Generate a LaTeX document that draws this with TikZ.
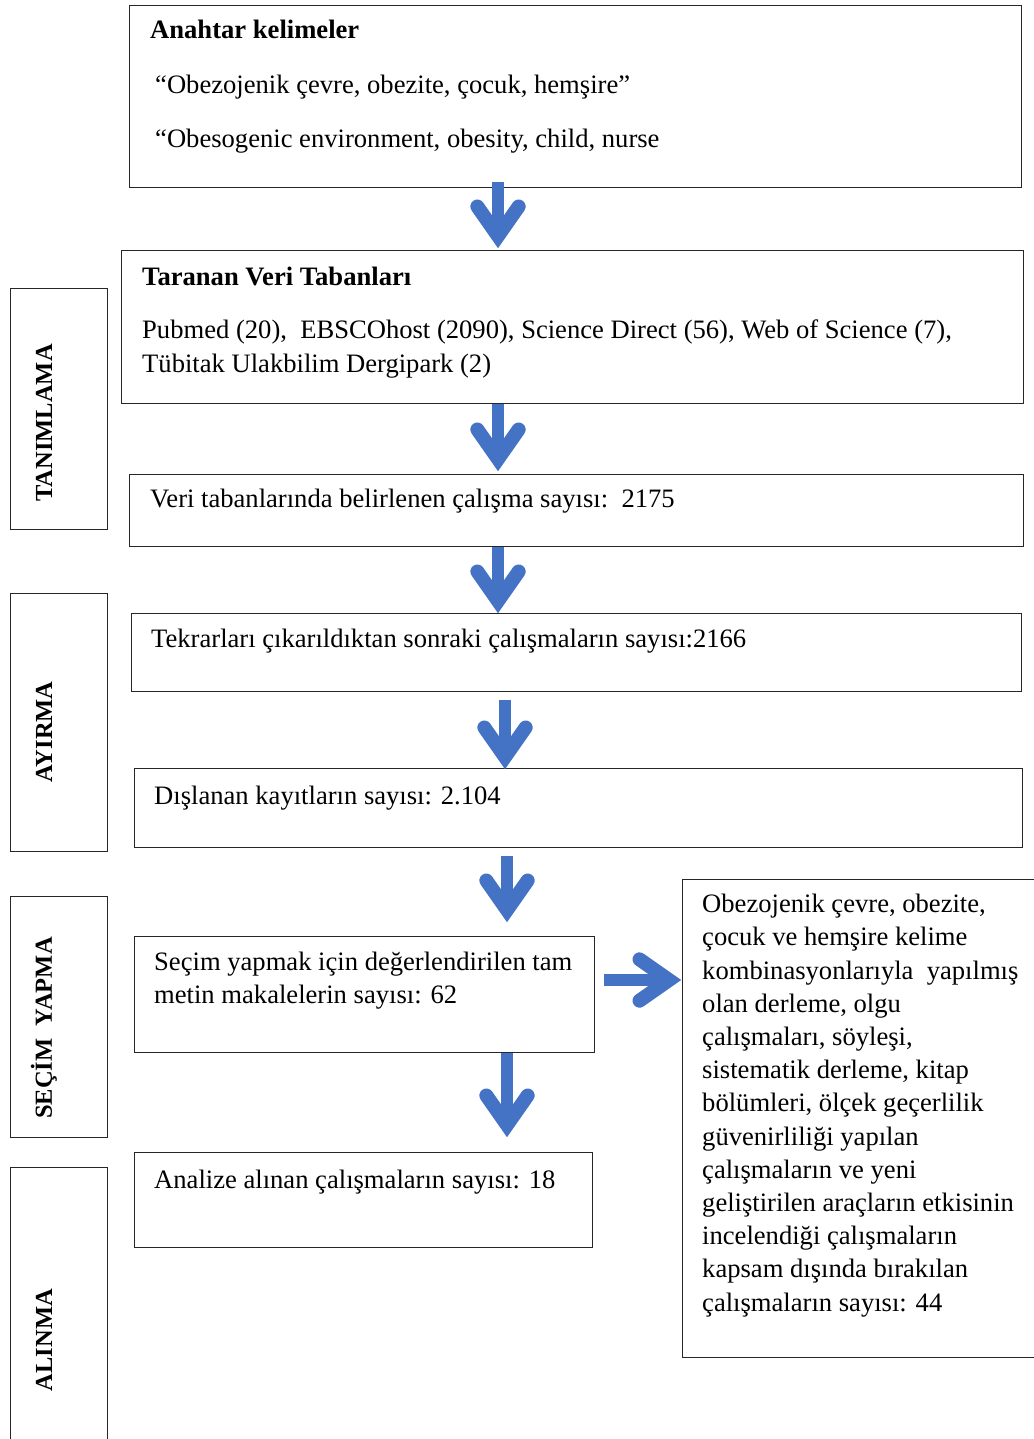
\documentclass[tikz,border=0pt]{standalone}
\usepackage{fontspec}
\setmainfont{Liberation Serif}
\usetikzlibrary{calc}
\definecolor{arrblue}{RGB}{68,114,196}
\tikzset{
  box/.style={draw=black!85, line width=1.2pt, anchor=north west, inner sep=0pt},
  txt/.style={anchor=base west, inner sep=0pt, font=\fontsize{26.6}{33.2}\selectfont},
  btxt/.style={anchor=base west, inner sep=0pt, font=\fontsize{26.6}{33.2}\selectfont\bfseries},
  side/.style={rotate=90, inner sep=0pt, font=\fontsize{24.5}{30}\selectfont\bfseries},
  shaftst/.style={draw=arrblue, line width=12pt},
  headst/.style={draw=arrblue, line width=14pt, line cap=round, miter limit=10},
}
\newcommand\blockarrow[2]{%
  \coordinate (#1v) at ($(#2)!12pt!(#1)$);
  \draw[shaftst] (#1) -- (#1v);
  \draw[headst] ($(#1v)!36pt!35:(#1)$) -- (#1v) -- ($(#1v)!36pt!-35:(#1)$);
}
\begin{document}
\begin{tikzpicture}[x=1pt,y=-1pt]
\useasboundingbox (0,0) rectangle (1033,1439);
% main boxes
\node[box, minimum width=892pt, minimum height=182pt] (b1) at (129,5) {};
\node[box, minimum width=902pt, minimum height=153pt] (b2) at (121,250) {};
\node[box, minimum width=894pt, minimum height=72pt] (b3) at (129,474) {};
\node[box, minimum width=890pt, minimum height=78pt] (b4) at (131,613) {};
\node[box, minimum width=888pt, minimum height=79pt] (b5) at (134,768) {};
\node[box, minimum width=460pt, minimum height=116pt] (b6) at (134,936) {};
\node[box, minimum width=458pt, minimum height=95pt] (b7) at (134,1152) {};
\node[box, minimum width=370pt, minimum height=478pt] (b8) at (682,879) {};
% side boxes
\node[box, minimum width=97pt, minimum height=241pt] (s1) at (10,288) {};
\node[box, minimum width=97pt, minimum height=258pt] (s2) at (10,593) {};
\node[box, minimum width=97pt, minimum height=241pt] (s3) at (10,896) {};
\node[box, minimum width=97pt, minimum height=290pt] (s4) at (10,1167) {};
\node[side] (l1) at (44,423) {TANIMLAMA};
\node[side] (l2) at (44,732) {AYIRMA};
\node[side] (l3) at (44,1028) {SEÇİM\ \ YAPMA};
\node[side] (l4) at (44,1340) {ALINMA};
% texts
\node[btxt] (t1a) at (150,39) {Anahtar kelimeler};
\node[txt] (t1b) at (155,94) {“Obezojenik çevre, obezite, çocuk, hemşire”};
\node[txt] (t1c) at (155,148) {“Obesogenic environment, obesity, child, nurse};
\node[btxt] (t2a) at (142,285) {Taranan Veri Tabanları};
\node[txt] (t2b) at (142,338) {Pubmed (20),\ \ EBSCOhost (2090), Science Direct (56), Web of Science (7),};
\node[txt] (t2c) at (142,372) {Tübitak Ulakbilim Dergipark (2)};
\node[txt] (t3) at (150,507) {Veri tabanlarında belirlenen çalışma sayısı:\ \ 2175};
\node[txt] (t4) at (151,647) {Tekrarları çıkarıldıktan sonraki çalışmaların sayısı:2166};
\node[txt] (t5) at (154,804) {Dışlanan kayıtların sayısı: 2.104};
\node[txt] (t6a) at (154,970) {Seçim yapmak için değerlendirilen tam};
\node[txt] (t6b) at (154,1003) {metin makalelerin sayısı: 62};
\node[txt] (t7) at (154,1188) {Analize alınan çalışmaların sayısı: 18};
\node[txt, align=left] (t8) at (702,1311) {Obezojenik çevre, obezite,\\
çocuk ve hemşire kelime\\
kombinasyonlarıyla\ \ yapılmış\\
olan derleme, olgu\\
çalışmaları, söyleşi,\\
sistematik derleme, kitap\\
bölümleri, ölçek geçerlilik\\
güvenirliliği yapılan\\
çalışmaların ve yeni\\
geliştirilen araçların etkisinin\\
incelendiği çalışmaların\\
kapsam dışında bırakılan\\
çalışmaların sayısı: 44};
% arrows
\coordinate (a1s) at (498,182); \coordinate (a1e) at (498,248);
\coordinate (a2s) at (498,404); \coordinate (a2e) at (498,471);
\coordinate (a3s) at (498,547); \coordinate (a3e) at (498,613);
\coordinate (a4s) at (505,700); \coordinate (a4e) at (505,769);
\coordinate (a5s) at (507,856); \coordinate (a5e) at (507,922);
\coordinate (a6s) at (507,1053); \coordinate (a6e) at (507,1137);
\coordinate (a7s) at (604,980); \coordinate (a7e) at (681,980);
\blockarrow{a1s}{a1e}
\blockarrow{a2s}{a2e}
\blockarrow{a3s}{a3e}
\blockarrow{a4s}{a4e}
\blockarrow{a5s}{a5e}
\blockarrow{a6s}{a6e}
\blockarrow{a7s}{a7e}
\end{tikzpicture}
\end{document}
